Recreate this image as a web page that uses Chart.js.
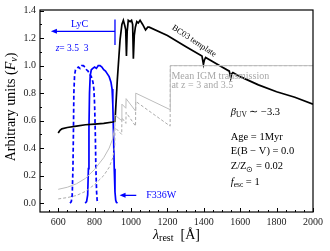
<!DOCTYPE html>
<html>
<head>
<meta charset="utf-8">
<script src="https://cdn.jsdelivr.net/npm/chart.js@4.4.1/dist/chart.umd.min.js"></script>
<style>
  html, body { margin: 0; padding: 0; background: #fff; }
  #wrap { width: 330px; height: 251px; }
</style>
</head>
<body>
<div id="wrap"><canvas id="sed" width="330" height="251"></canvas></div>
<script>
// ---- values ----

// BC03 template spectrum (black)
const bcWave = [600, 610, 620, 650, 700, 750, 800, 850, 900, 912, 925, 940, 950, 958, 966, 971, 975, 979, 985, 995, 1003, 1009, 1013, 1018, 1024, 1032, 1040, 1050, 1064, 1080, 1092, 1100, 1200, 1300, 1390, 1398, 1403, 1410, 1500, 1540, 1548, 1553, 1560, 1600, 1700, 1800, 1900, 2000];
const bcFlux = [0.51, 0.53, 0.54, 0.55, 0.56, 0.57, 0.575, 0.58, 0.59, 0.595, 0.90, 1.19, 1.30, 1.33, 1.29, 1.26, 1.07, 1.25, 1.33, 1.32, 1.33, 1.30, 1.05, 1.22, 1.28, 1.32, 1.31, 1.33, 1.30, 1.26, 1.28, 1.28, 1.22, 1.14, 1.07, 1.01, 1.04, 1.06, 0.99, 0.96, 0.91, 0.94, 0.95, 0.92, 0.86, 0.81, 0.77, 0.72];

// Mean IGM transmission (grey): z = 3 solid, z = 3.5 dashed
const igmWave = [600, 650, 700, 750, 800, 850, 880, 900, 911, 912, 949, 950, 972, 973, 1025, 1026, 1215, 1216, 2000];
const igmZ3 = [0.10, 0.115, 0.14, 0.18, 0.245, 0.33, 0.40, 0.47, 0.56, 0.64, 0.60, 0.72, 0.69, 0.76, 0.67, 0.80, 0.68, 1.0, 1.0];
const igmZ35 = [0.03, 0.04, 0.055, 0.085, 0.135, 0.20, 0.26, 0.33, 0.42, 0.55, 0.50, 0.62, 0.58, 0.66, 0.56, 0.74, 0.56, 1.0, 1.0];

// F336W throughput in the rest frame (blue): z = 3 solid
const f336Z3Wave = [748, 756, 762, 766, 769, 772, 776, 782, 790, 800, 810, 820, 830, 840, 850, 860, 870, 880, 890, 896, 900, 904, 908, 912, 916, 920, 926];
const f336Z3 = [0, 0.01, 0.06, 0.25, 0.55, 0.80, 0.93, 0.97, 0.98, 0.99, 0.98, 1.0, 1.0, 0.99, 0.97, 0.96, 0.94, 0.92, 0.88, 0.83, 0.72, 0.50, 0.25, 0.08, 0.02, 0.005, 0];
// z = 3.5 dashed
const f336Z35Wave = [665, 672, 677, 681, 684, 686, 690, 695, 702, 711, 720, 729, 738, 747, 756, 764, 773, 782, 791, 796, 800, 804, 807, 811, 814, 818, 823];
const f336Z35 = [0, 0.01, 0.06, 0.25, 0.55, 0.80, 0.93, 0.97, 0.98, 0.99, 0.98, 1.0, 1.0, 0.99, 0.97, 0.96, 0.94, 0.92, 0.88, 0.83, 0.72, 0.50, 0.25, 0.08, 0.02, 0.005, 0];

// axes
const xTicks = [600, 800, 1000, 1200, 1400, 1600, 1800, 2000];
const yTicks = [0.0, 0.2, 0.4, 0.6, 0.8, 1.0, 1.2, 1.4];
const X_MIN = 500, X_MAX = 2000;
const Y_MIN = -0.065, Y_MAX = 1.405;

const SERIF = '"Liberation Serif", "Times New Roman", serif';
const BLUE = '#0000ff';
const GREY = '#bdbdbd';

function pts(xs, ys) {
    return xs.map((x, i) => ({ x: x, y: ys[i] }));
}

// draws a run of text pieces side by side: [text, font, dy]
function richText(ctx, parts, x, y, align) {
    let w = 0;
    for (const p of parts) { ctx.font = p[1]; w += ctx.measureText(p[0]).width; }
    let cx = align === 'center' ? x - w / 2 : x;
    ctx.textAlign = 'left';
    for (const p of parts) {
        ctx.font = p[1];
        ctx.fillText(p[0], cx, y + (p[2] || 0));
        cx += ctx.measureText(p[0]).width;
    }
}

function arrow(ctx, x1, y1, x2, y2, color) {
    const ang = Math.atan2(y2 - y1, x2 - x1);
    const len = 6, half = 2.5;
    ctx.strokeStyle = color;
    ctx.fillStyle = color;
    ctx.lineWidth = 1.3;
    ctx.beginPath();
    ctx.moveTo(x1, y1);
    ctx.lineTo(x2 - Math.cos(ang) * len * 0.8, y2 - Math.sin(ang) * len * 0.8);
    ctx.stroke();
    ctx.beginPath();
    ctx.moveTo(x2, y2);
    ctx.lineTo(x2 - Math.cos(ang) * len - Math.sin(ang) * half, y2 - Math.sin(ang) * len + Math.cos(ang) * half);
    ctx.lineTo(x2 - Math.cos(ang) * len + Math.sin(ang) * half, y2 - Math.sin(ang) * len - Math.cos(ang) * half);
    ctx.closePath();
    ctx.fill();
}

const frameAndTicks = {
    id: 'frameAndTicks',
    afterDatasetsDraw(chart) {
        const { ctx, chartArea: a, scales: { x, y } } = chart;
        ctx.save();
        ctx.strokeStyle = '#000';
        ctx.lineWidth = 1;
        ctx.beginPath();
        for (let v = 550; v <= X_MAX; v += 50) {
            const px = Math.round(x.getPixelForValue(v)) + 0.5;
            const len = xTicks.includes(v) ? 4 : 2;
            ctx.moveTo(px, a.bottom);
            ctx.lineTo(px, a.bottom - len);
        }
        for (let i = 0; i <= 14; i++) {
            const v = i / 10;
            const py = Math.round(y.getPixelForValue(v)) + 0.5;
            const len = i % 2 === 0 ? 4 : 2;
            ctx.moveTo(a.left, py);
            ctx.lineTo(a.left + len, py);
        }
        ctx.stroke();
        ctx.lineWidth = 1.2;
        ctx.strokeRect(a.left, a.top, a.right - a.left, a.bottom - a.top);
        ctx.restore();
    }
};

const annotations = {
    id: 'annotations',
    afterDraw(chart) {
        const { ctx, chartArea: a, scales: { x, y } } = chart;
        const X = v => x.getPixelForValue(v);
        const Y = v => y.getPixelForValue(v);
        ctx.save();
        ctx.textBaseline = 'middle';

        // LyC marker and arrow
        ctx.strokeStyle = BLUE;
        ctx.lineWidth = 1.3;
        ctx.beginPath();
        ctx.moveTo(X(912), Y(1.15));
        ctx.lineTo(X(912), Y(1.335));
        ctx.stroke();
        arrow(ctx, X(912), Y(1.25), X(560), Y(1.25), BLUE);
        ctx.fillStyle = BLUE;
        richText(ctx, [['LyC', '10px ' + SERIF]], X(717), Y(1.30), 'center');

        // redshift labels
        richText(ctx, [['z', 'italic 9.5px ' + SERIF], ['= 3.5  3', '9.5px ' + SERIF]], X(586), Y(1.128), 'left');

        // F336W
        arrow(ctx, X(1029), Y(0.056), X(937), Y(0.056), BLUE);
        ctx.fillStyle = BLUE;
        richText(ctx, [['F336W', '10px ' + SERIF]], X(1084), Y(0.056), 'left');

        // BC03 label, rotated along the spectrum
        ctx.fillStyle = '#000';
        ctx.save();
        ctx.translate(194, 41);
        ctx.rotate(Math.atan2(33, 50));
        richText(ctx, [['BC03 template', '8.5px ' + SERIF]], 0, 0, 'center');
        ctx.restore();

        // IGM label
        ctx.fillStyle = '#a8a8a8';
        richText(ctx, [['Mean IGM transmission', '10px ' + SERIF]], X(1222), Y(0.925), 'left');
        richText(ctx, [['at z = 3 and 3.5', '10px ' + SERIF]], X(1222), Y(0.853), 'left');

        // model parameters
        ctx.fillStyle = '#000';
        const f = '10.5px ' + SERIF, fi = 'italic 10.5px ' + SERIF, fs = '7.5px ' + SERIF;
        const lx = X(1548);
        richText(ctx, [['β', fi], ['UV', fs, 3], [' ∼ −3.3', f]], lx, Y(0.663), 'left');
        richText(ctx, [['Age = 1Myr', f]], lx, Y(0.482), 'left');
        richText(ctx, [['E(B − V) = 0.0', f]], lx, Y(0.374), 'left');
        richText(ctx, [['Z/Z', f], ['⊙', fs, 3], [' = 0.02', f]], lx, Y(0.265), 'left');
        richText(ctx, [['f', fi], ['esc', fs, 3], [' = 1', f]], lx, Y(0.150), 'left');

        // axis titles
        ctx.fillStyle = '#000';
        richText(ctx, [['λ', 'italic 14px ' + SERIF], ['rest', '10px ' + SERIF, 3], ['  [Å]', '14px ' + SERIF]], (a.left + a.right) / 2, 235, 'center');
        ctx.save();
        ctx.translate(11, 107);
        ctx.rotate(-Math.PI / 2);
        richText(ctx, [['Arbitrary units (', '14px ' + SERIF], ['F', 'italic 14px ' + SERIF], ['ν', 'italic 10px ' + SERIF, 3], [')', '14px ' + SERIF]], 0, 0, 'center');
        ctx.restore();

        ctx.restore();
    }
};

new Chart(document.getElementById('sed'), {
    type: 'line',
    data: {
        datasets: [
            { data: pts(igmWave, igmZ3), borderColor: GREY, borderWidth: 1, pointRadius: 0 },
            { data: pts(igmWave, igmZ35), borderColor: '#ababab', borderWidth: 1, borderDash: [3, 2], pointRadius: 0 },
            { data: pts(bcWave, bcFlux), borderColor: '#000', borderWidth: 1.7, pointRadius: 0 },
            { data: pts(f336Z3Wave, f336Z3), borderColor: BLUE, borderWidth: 1.7, pointRadius: 0 },
            { data: pts(f336Z35Wave, f336Z35), borderColor: BLUE, borderWidth: 1.7, borderDash: [4, 2.5], pointRadius: 0 }
        ]
    },
    options: {
        responsive: false,
        devicePixelRatio: 1,
        animation: false,
        events: [],
        layout: { padding: { left: 0, right: 17, top: 8, bottom: 0 } },
        plugins: { legend: { display: false }, tooltip: { enabled: false } },
        elements: { line: { tension: 0, fill: false } },
        scales: {
            x: {
                type: 'linear',
                min: X_MIN,
                max: X_MAX,
                grid: { display: false, drawTicks: false },
                border: { display: false },
                afterBuildTicks: s => { s.ticks = xTicks.map(v => ({ value: v })); },
                afterFit: s => { s.height = 39; },
                ticks: { color: '#222', padding: 4, maxRotation: 0, font: { family: SERIF, size: 10 }, callback: v => String(v) }
            },
            y: {
                min: Y_MIN,
                max: Y_MAX,
                grid: { display: false, drawTicks: false },
                border: { display: false },
                afterBuildTicks: s => { s.ticks = yTicks.map(v => ({ value: v })); },
                afterFit: s => { s.width = 40; },
                ticks: { color: '#222', padding: 4, font: { family: SERIF, size: 10 }, callback: v => v.toFixed(1) }
            }
        }
    },
    plugins: [frameAndTicks, annotations]
});
</script>
</body>
</html>
